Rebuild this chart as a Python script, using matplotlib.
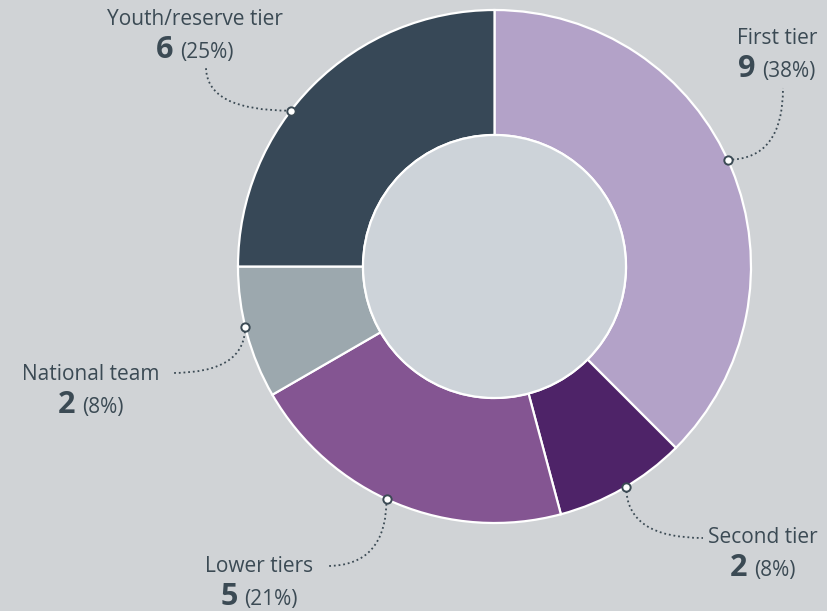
import numpy as np
import matplotlib
matplotlib.use("Agg")
import matplotlib.pyplot as plt
from matplotlib.path import Path
from matplotlib.patches import PathPatch, Circle

# Data
categories = ["First tier", "Second tier", "Lower tiers", "National team", "Youth/reserve tier"]
counts = [9, 2, 5, 2, 6]
shares = ["38%", "8%", "21%", "8%", "25%"]
colors = ["#b3a2c8", "#4e2368", "#845592", "#9ca8ae", "#374857"]

W, H = 827, 611
BG = "#d0d3d6"
HOLE = "#cdd3d9"
TXT = "#3b4a54"

# Layout (pixel coordinates, y measured from the top)
cx, cy = 494.5, 266.5
r_out, r_in = 256.5, 131.5
anchor_shift = [-2.1, -0.9, 2.4, 1.4, -7.6]          # degrees from wedge middle
conn_end = [(783, 88), (703, 538), (327, 566), (172, 373), (206, 67)]
conn_bend = ["h", "v", "v", "v", "h"]                 # first leg direction
text_x = [777, 763, 259, 91, 195]
text_base = [44, 543, 572, 380, 25]

fig = plt.figure(figsize=(W / 100, H / 100), dpi=100, facecolor=BG)
ax = fig.add_axes([0, 0, 1, 1])
ax.set_facecolor(BG)

def py(y):
    return H - y

wedges, _ = ax.pie(
    counts, colors=colors, radius=r_out, center=(cx, py(cy)),
    startangle=90, counterclock=False, frame=True,
    wedgeprops=dict(width=r_out - r_in, edgecolor="white", linewidth=1.6),
)
ax.add_patch(Circle((cx, py(cy)), r_in, facecolor=HOLE, edgecolor="white",
                    linewidth=1.6, zorder=3))
ax.set_xlim(0, W)
ax.set_ylim(0, H)
ax.axis("off")

fam = ["Open Sans", "DejaVu Sans"]
total = sum(counts)
cum = np.cumsum([0] + counts)

fig.canvas.draw()
renderer = fig.canvas.get_renderer()

for i, name in enumerate(categories):
    mid = (cum[i] + cum[i + 1]) / 2 / total * 360 + anchor_shift[i]
    t = np.deg2rad(mid)
    ax_px = cx + r_out * np.sin(t)
    ay_px = cy - r_out * np.cos(t)
    ex, ey = conn_end[i]
    if conn_bend[i] == "h":
        ctrl = (ex, ay_px)
    else:
        ctrl = (ax_px, ey)
    path = Path([(ax_px, py(ay_px)), (ctrl[0], py(ctrl[1])), (ex, py(ey))],
                [Path.MOVETO, Path.CURVE3, Path.CURVE3])
    ax.add_patch(PathPatch(path, facecolor="none", edgecolor=TXT,
                           linewidth=1.3, linestyle=(0, (1, 1.6)), zorder=4))
    ax.plot([ax_px], [py(ay_px)], marker="o", markersize=6,
            markerfacecolor="white", markeredgecolor=TXT,
            markeredgewidth=1.4, zorder=6)

    ax.text(text_x[i], py(text_base[i]), name, ha="center", va="baseline",
            fontsize=15, color=TXT, family=fam)

    nb = py(text_base[i] + 33)
    t1 = ax.text(0, nb, str(counts[i]), ha="left", va="baseline",
                 fontsize=22, fontweight="bold", color=TXT, family=fam)
    t2 = ax.text(0, nb, f"({shares[i]})", ha="left", va="baseline",
                 fontsize=15, color=TXT, family=fam)
    w1 = t1.get_window_extent(renderer).width
    w2 = t2.get_window_extent(renderer).width
    gap = 7
    x0 = text_x[i] - (w1 + gap + w2) / 2
    t1.set_x(x0)
    t2.set_x(x0 + w1 + gap)

fig.savefig("out.png", dpi=100, facecolor=BG)
